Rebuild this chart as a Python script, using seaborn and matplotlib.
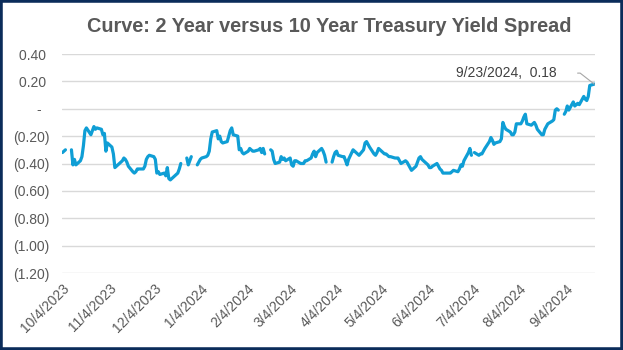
import numpy as np
import pandas as pd
import matplotlib
matplotlib.use("Agg")
import matplotlib.pyplot as plt
from matplotlib.patches import Rectangle
import seaborn as sns

nan = np.nan

# Business days 10/4/2023 .. 9/23/2024 ; NaN = bond market holiday (gap in line)
start_date = "2023-10-04"
end_date = "2024-09-23"

spread = [
    -0.32, -0.31, -0.30,                       # 10/4 - 10/6
    nan, -0.30, -0.41, -0.37, -0.41,           # 10/9 -
    -0.38, -0.35, -0.27, -0.16, -0.14,         # 10/16 -
    -0.19, -0.16, -0.13, -0.15, -0.14,         # 10/23 -
    -0.15, -0.19, -0.18, -0.31, -0.25,         # 10/30 -
    -0.28, -0.33, -0.43, -0.42, -0.41,         # 11/6 -
    -0.38, -0.36, -0.37, -0.39, -0.42,         # 11/13 -
    -0.46, -0.47, -0.46, -0.44, -0.44,         # 11/20 -
    -0.44, -0.42, -0.37, -0.35, -0.34,         # 11/27 -
    -0.35, -0.37, -0.47, -0.46, -0.48,         # 12/4 -
    -0.47, -0.49, -0.43, -0.51, -0.52,         # 12/11 -
    -0.49, -0.48, -0.47, -0.44, -0.40,         # 12/18 -
    nan, -0.36, -0.41, -0.38, -0.35,           # 12/25 -
    nan, -0.41, -0.39, -0.37, -0.36,           # 1/1 -
    -0.35, -0.34, -0.31, -0.22, -0.17,         # 1/8 -
    -0.16, -0.22, -0.20, -0.24, -0.25,         # 1/15 -
    -0.24, -0.20, -0.16, -0.14, -0.19,         # 1/22 -
    -0.20, -0.30, -0.29, -0.32, -0.33,         # 1/29 -
    -0.31, -0.29, -0.30, -0.31, -0.31,         # 2/5 -
    -0.30, -0.29, -0.32, -0.29, -0.33,         # 2/12 -
    nan, -0.30, -0.31, -0.37, -0.40,           # 2/19 -
    -0.39, -0.35, -0.37, -0.36, -0.38,         # 2/26 -
    -0.36, -0.41, -0.42, -0.38, -0.38,         # 3/4 -
    -0.40, -0.40, -0.40, -0.38, -0.38,         # 3/11 -
    -0.36, -0.33, -0.31, -0.35, -0.32,         # 3/18 -
    -0.29, -0.31, -0.34, -0.39, nan,           # 3/25 -
    -0.39, -0.35, -0.32, -0.31, -0.34,         # 4/1 -
    -0.35, -0.35, -0.38, -0.41, -0.37,         # 4/8 -
    -0.30, -0.31, -0.32, -0.33, -0.34,         # 4/15 -
    -0.30, -0.25, -0.24, -0.26, -0.28,         # 4/22 -
    -0.33, -0.34, -0.32, -0.29, -0.30,         # 4/29 -
    -0.33, -0.33, -0.34, -0.35, -0.35,         # 5/6 -
    -0.36, -0.36, -0.36, -0.38, -0.40,         # 5/13 -
    -0.38, -0.39, -0.41, -0.43, -0.45,         # 5/20 -
    -0.42, -0.39, -0.36, -0.35, -0.37,         # 5/27 -
    -0.40, -0.41, -0.43, -0.43, -0.42,         # 6/3 -
    -0.40, -0.42, -0.44, -0.45, -0.47,         # 6/10 -
    -0.47, -0.47, -0.47, -0.46, -0.45,         # 6/17 -
    -0.46, -0.44, -0.41, -0.42, -0.38,         # 6/24 -
    -0.32, -0.29, -0.34, nan, -0.32,           # 7/1 -
    -0.34, -0.33, -0.33, -0.31, -0.29,         # 7/8 -
    -0.24, -0.21, -0.23, -0.26, -0.25,         # 7/15 -
    -0.24, -0.22, -0.10, -0.13, -0.15,         # 7/22 -
    -0.17, -0.19, -0.19, -0.17, -0.11,         # 7/29 -
    -0.11, -0.09, -0.06, -0.04, -0.11,         # 8/5 -
    -0.12, -0.11, -0.10, -0.12, -0.15,         # 8/12 -
    -0.19, -0.19, -0.15, -0.13, -0.11,         # 8/19 -
    -0.09, -0.08, -0.01, 0.00, -0.01,          # 8/26 -
    nan, -0.04, -0.02, 0.02, -0.01,            # 9/2 -
    0.05, 0.02, 0.03, 0.04, 0.03,              # 9/9 -
    0.09, 0.07, 0.06, 0.09, 0.17,              # 9/16 -
    0.18,                                      # 9/23
]

tick_labels = ["10/4/2023", "11/4/2023", "12/4/2023", "1/4/2024", "2/4/2024",
               "3/4/2024", "4/4/2024", "5/4/2024", "6/4/2024", "7/4/2024",
               "8/4/2024", "9/4/2024"]
y_ticks = [0.40, 0.20, 0.00, -0.20, -0.40, -0.60, -0.80, -1.00, -1.20]

title = "Curve: 2 Year versus 10 Year Treasury Yield Spread"

# ---------------------------------------------------------------
dates = pd.bdate_range(start_date, end_date)
df = pd.DataFrame({"date": dates, "spread": spread})
df["seg"] = df["spread"].isna().cumsum()
plot_df = df.dropna()

sns.set_style("white")
plt.rcParams["font.family"] = ["Liberation Sans", "DejaVu Sans"]

W, H = 623, 350
fig = plt.figure(figsize=(W / 100, H / 100), dpi=100)
left, right, top, bottom = 61.7, 595.0, 54.0, 273.0
ax = fig.add_axes([left / W, 1 - bottom / H, (right - left) / W, (bottom - top) / H])

line_color = "#0F9ED5"
sns.lineplot(data=plot_df, x="date", y="spread", units="seg", estimator=None,
             color=line_color, linewidth=2.3, ax=ax, legend=False)

ax.set_ylim(-1.2, 0.4)
ax.set_xlim(pd.Timestamp(start_date) - pd.Timedelta(hours=12),
            pd.Timestamp(end_date) + pd.Timedelta(hours=12))

ax.set_yticks(y_ticks)

def fmt(v):
    if abs(v) < 1e-9:
        return "-  "
    if v < 0:
        return f"({abs(v):.2f})"
    return f"{v:.2f}\u2009"

ax.set_yticklabels([fmt(v) for v in y_ticks])
ax.set_xticks(pd.to_datetime(tick_labels, format="%m/%d/%Y"))
ax.set_xticklabels(tick_labels, rotation=45, ha="right", rotation_mode="anchor")

ax.grid(axis="y", color="#D9D9D9", linewidth=1.0)
ax.grid(axis="x", visible=False)
ax.set_axisbelow(True)
for s in ax.spines.values():
    s.set_visible(False)
ax.tick_params(axis="y", length=0, pad=9, labelsize=10, labelcolor="#595959")
ax.tick_params(axis="x", length=0, pad=6, labelsize=10, labelcolor="#595959")
ax.set_xlabel("")
ax.set_ylabel("")

# Last-point label
last = df.dropna().iloc[-1]
ax.annotate(f"{last['date'].month}/{last['date'].day}/{last['date'].year},  {last['spread']:.2f}",
            xy=(last["date"], last["spread"]), xytext=(-38, 11), textcoords="offset pixels",
            ha="right", va="center", fontsize=10, color="#404040",
            arrowprops=dict(arrowstyle="-", color="#A6A6A6", lw=0.8, shrinkA=13, shrinkB=0,
                            connectionstyle="angle,angleA=0,angleB=142,rad=0"))

fig.text((left + right) / 2 / W + 0.002, 1 - 27 / H, title, ha="center", va="center",
         fontsize=14.3, fontweight="bold", color="#595959")

fig.patches.append(Rectangle((0, 0), 1, 1, transform=fig.transFigure, fill=False,
                             edgecolor="#0B2C5A", linewidth=4, zorder=10))

fig.savefig("out.png", dpi=100)
